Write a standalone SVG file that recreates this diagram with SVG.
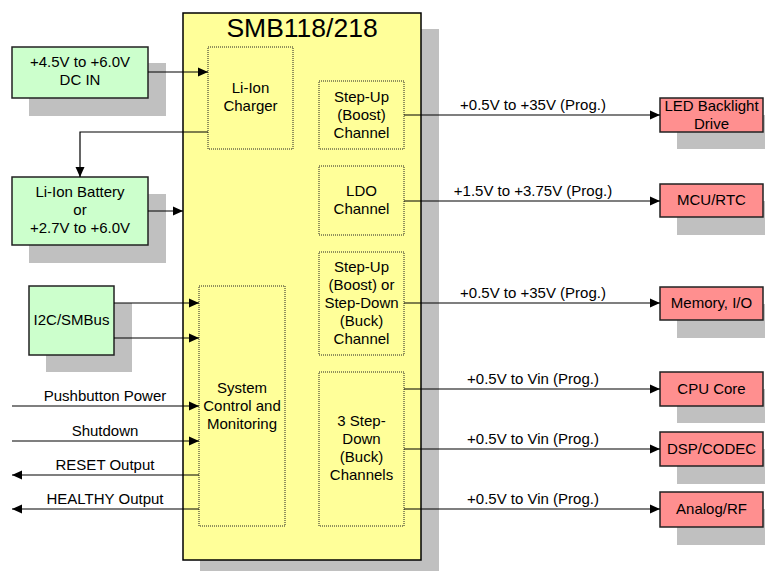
<svg xmlns="http://www.w3.org/2000/svg" width="765" height="571" viewBox="0 0 765 571">
<defs>
<marker id="arr" markerUnits="userSpaceOnUse" markerWidth="10" markerHeight="10" refX="10" refY="5" orient="auto">
<path d="M0,0.5 L10,5 L0,9.5 z" fill="#000"/>
</marker>
<style>
text{font-family:"Liberation Sans",Arial,sans-serif;font-size:15px;fill:#000;text-anchor:middle}
.sh{fill:#C0C0C0;stroke:none}
.g{fill:#CCFFCC;stroke:#222;stroke-width:1.5}
.r{fill:#FF8F8F;stroke:#222;stroke-width:1.5}
.y{fill:#FFFF99;stroke:#000;stroke-width:1.5}
.in{fill:#FFFF99;stroke:#222;stroke-width:1;stroke-dasharray:1 1}
.c{fill:none;stroke:#000;stroke-width:1.2}
.ca{fill:none;stroke:#000;stroke-width:1.2;marker-end:url(#arr)}
</style>
</defs>
<rect width="765" height="571" fill="#fff"/>

<g id="smb">
<rect class="sh" x="200" y="29" width="239" height="542"/>
<rect class="y" x="183" y="13" width="238" height="547"/>
<text x="302" y="37" style="font-size:26.5px">SMB118/218</text>
</g>

<g id="charger">
<rect class="in" x="208" y="47" width="85" height="102"/>
<text x="250.5" y="93">Li-Ion</text>
<text x="250.5" y="111">Charger</text>
</g>
<g id="boost">
<rect class="in" x="319" y="81" width="85" height="68"/>
<text x="361.5" y="102">Step-Up</text>
<text x="361.5" y="120">(Boost)</text>
<text x="361.5" y="138">Channel</text>
</g>
<g id="ldo">
<rect class="in" x="319" y="166" width="85" height="69"/>
<text x="361.5" y="196">LDO</text>
<text x="361.5" y="214">Channel</text>
</g>
<g id="buckboost">
<rect class="in" x="319" y="252" width="85" height="103"/>
<text x="361.5" y="272">Step-Up</text>
<text x="361.5" y="290">(Boost) or</text>
<text x="361.5" y="308">Step-Down</text>
<text x="361.5" y="326">(Buck)</text>
<text x="361.5" y="344">Channel</text>
</g>
<g id="buck3">
<rect class="in" x="319" y="372" width="85" height="154"/>
<text x="361.5" y="426">3 Step-</text>
<text x="361.5" y="444">Down</text>
<text x="361.5" y="462">(Buck)</text>
<text x="361.5" y="480">Channels</text>
</g>
<g id="sysctl">
<rect class="in" x="199" y="286" width="86" height="240"/>
<text x="242" y="393">System</text>
<text x="242" y="411">Control and</text>
<text x="242" y="429">Monitoring</text>
</g>

<g id="dcin">
<rect class="sh" x="29" y="63" width="137" height="53"/>
<rect class="g" x="12" y="47" width="136" height="51"/>
<text x="80" y="67">+4.5V to +6.0V</text>
<text x="80" y="85">DC IN</text>
</g>
<g id="battery">
<rect class="sh" x="29" y="194" width="137" height="69"/>
<rect class="g" x="12" y="177" width="136" height="68"/>
<text x="80" y="197">Li-Ion Battery</text>
<text x="80" y="215">or</text>
<text x="80" y="233">+2.7V to +6.0V</text>
</g>
<g id="i2c">
<rect class="sh" x="46" y="303" width="86" height="69"/>
<rect class="g" x="29" y="286" width="85" height="69"/>
<text x="71.5" y="325">I2C/SMBus</text>
</g>

<g id="led">
<rect class="sh" x="677" y="115" width="88" height="34"/>
<rect class="r" x="660" y="98" width="103" height="34"/>
<text x="711.5" y="111">LED Backlight</text>
<text x="711.5" y="129">Drive</text>
</g>
<g id="mcu">
<rect class="sh" x="677" y="201" width="88" height="34"/>
<rect class="r" x="660" y="184" width="103" height="33"/>
<text x="711.5" y="205">MCU/RTC</text>
</g>
<g id="mem">
<rect class="sh" x="677" y="304" width="88" height="34"/>
<rect class="r" x="660" y="287" width="103" height="33"/>
<text x="711.5" y="308">Memory, I/O</text>
</g>
<g id="cpu">
<rect class="sh" x="677" y="389" width="88" height="34"/>
<rect class="r" x="660" y="372" width="103" height="34"/>
<text x="711.5" y="394">CPU Core</text>
</g>
<g id="dsp">
<rect class="sh" x="677" y="449" width="88" height="35"/>
<rect class="r" x="660" y="432" width="103" height="34"/>
<text x="711.5" y="454">DSP/CODEC</text>
</g>
<g id="analog">
<rect class="sh" x="677" y="509" width="88" height="36"/>
<rect class="r" x="660" y="492" width="103" height="35"/>
<text x="711.5" y="514">Analog/RF</text>
</g>

<g id="connectors">
<path class="ca" d="M148,72 H208"/>
<path class="ca" d="M208,132 H80 V177"/>
<path class="ca" d="M148,211 H183"/>
<path class="ca" d="M114,303 H199"/>
<path class="ca" d="M114,338 H199"/>
<path class="ca" d="M12,406 H199"/>
<path class="ca" d="M12,441 H199"/>
<path class="ca" d="M199,475 H12"/>
<path class="ca" d="M199,509 H12"/>
<path class="ca" d="M404,115 H660"/>
<path class="ca" d="M404,201 H660"/>
<path class="ca" d="M404,303 H660"/>
<path class="ca" d="M404,389 H660"/>
<path class="ca" d="M404,449 H660"/>
<path class="ca" d="M404,509 H660"/>
<text x="105" y="401">Pushbutton Power</text>
<text x="105" y="436">Shutdown</text>
<text x="105" y="470">RESET Output</text>
<text x="105" y="504">HEALTHY Output</text>
<text x="533" y="110">+0.5V to +35V (Prog.)</text>
<text x="533" y="196">+1.5V to +3.75V (Prog.)</text>
<text x="533" y="298">+0.5V to +35V (Prog.)</text>
<text x="533" y="384">+0.5V to Vin (Prog.)</text>
<text x="533" y="444">+0.5V to Vin (Prog.)</text>
<text x="533" y="504">+0.5V to Vin (Prog.)</text>
</g>
</svg>
